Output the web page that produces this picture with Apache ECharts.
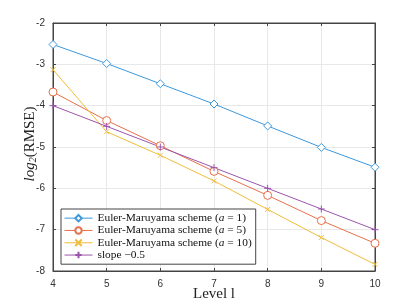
<!DOCTYPE html>
<html><head><meta charset="utf-8">
<script src="https://cdn.jsdelivr.net/npm/echarts@6/dist/echarts.min.js"></script>
<style>html,body{margin:0;padding:0;background:#fff}#c{width:415px;height:306px}</style>
</head><body><div id="c"></div>
<script>
const levels = [4, 5, 6, 7, 8, 9, 10];
const emA1 = [-2.52, -2.98, -3.47, -3.96, -4.49, -5.01, -5.49];
const emA5 = [-3.67, -4.36, -4.97, -5.59, -6.17, -6.78, -7.33];
const emA10 = [-3.13, -4.63, -5.20, -5.82, -6.51, -7.19, -7.84];
const slope = [-4.0, -4.5, -5.0, -5.5, -6.0, -6.5, -7.0];
const seriesNames = ['Euler-Maruyama scheme (a = 1)', 'Euler-Maruyama scheme (a = 5)', 'Euler-Maruyama scheme (a = 10)', 'slope \u22120.5'];

const colors = ['#3d98dc', '#e6704a', '#f0bd3a', '#9a55ab'];
const pairs = a => levels.map((l, i) => [l, a[i]]);
const xPath = 'path://M0,0L10,10M10,0L0,10';
const plusPath = 'path://M5,0L5,10M0,5L10,5';
const serif = '"Liberation Serif","DejaVu Serif",serif';
const sans = '"Liberation Sans",Arial,sans-serif';

function mk(name, data, color, symbol, size) {
  return {
    name, type: 'line', data: pairs(data), symbol, symbolSize: size,
    lineStyle: {color, width: 1},
    itemStyle: {color: symbol.startsWith('path') ? 'none' : '#fff', borderColor: color, borderWidth: 1},
    emphasis: {disabled: true}, animation: false, z: 3
  };
}

const chart = echarts.init(document.getElementById('c'), null, {renderer: 'canvas'});
chart.setOption({
  animation: false,
  grid: {left: 53, right: 40, top: 23, bottom: 35, containLabel: false, outerBoundsMode: 'none', show: true, borderColor: '#444', borderWidth: 1},
  xAxis: [{
    type: 'value', min: 4, max: 10, interval: 1,
    name: 'Level l', nameLocation: 'middle', nameGap: 16, nameMoveOverlap: false,
    nameTextStyle: {fontFamily: serif, fontSize: 15, color: '#222'},
    axisLine: {show: true, lineStyle: {color: '#444'}},
    axisTick: {show: true, inside: true, length: 3, lineStyle: {color: '#444'}},
    axisLabel: {fontFamily: sans, fontSize: 10, color: '#333', margin: 8},
    splitLine: {show: true, lineStyle: {color: '#e8e8e8'}}
  }, {
    type: 'value', min: 4, max: 10, interval: 1, position: 'top',
    axisLine: {show: true, lineStyle: {color: '#444'}},
    axisTick: {show: true, inside: true, length: 3, lineStyle: {color: '#444'}},
    axisLabel: {show: false}, splitLine: {show: false}
  }],
  yAxis: [{
    type: 'value', min: -8, max: -2, interval: 1,
    name: '{i|log}{s|2}{n|(RMSE)}', nameLocation: 'middle', nameGap: 15, nameRotate: 90, nameMoveOverlap: false,
    nameTextStyle: {
      fontFamily: serif, fontSize: 15, color: '#222', padding: [0, 0, 0, 6],
      rich: {
        i: {fontFamily: serif, fontSize: 15, fontStyle: 'italic', color: '#222'},
        s: {fontFamily: serif, fontSize: 10, fontStyle: 'italic', color: '#222', verticalAlign: 'bottom', padding: [6, 0, 0, 0]},
        n: {fontFamily: serif, fontSize: 15, color: '#222'}
      }
    },
    axisLine: {show: true, lineStyle: {color: '#444'}},
    axisTick: {show: true, inside: true, length: 3, lineStyle: {color: '#444'}},
    axisLabel: {fontFamily: sans, fontSize: 10, color: '#333', margin: 8},
    splitLine: {show: true, lineStyle: {color: '#e8e8e8'}}
  }, {
    type: 'value', min: -8, max: -2, interval: 1, position: 'right',
    axisLine: {show: true, lineStyle: {color: '#444'}},
    axisTick: {show: true, inside: true, length: 3, lineStyle: {color: '#444'}},
    axisLabel: {show: false}, splitLine: {show: false}
  }],
  legend: {
    orient: 'vertical', left: 61, top: 209,
    backgroundColor: '#fff', borderColor: '#444', borderWidth: 1,
    padding: [3, 4, 3, 3], itemGap: 0, itemWidth: 28, itemHeight: 8,
    lineStyle: {width: 1},
    data: seriesNames,
    formatter: function (n) {
      const m = n.match(/^(.*)\(a = (\d+)\)$/);
      if (m) return '{t|' + m[1] + '(}{i|a}{t| = ' + m[2] + ')}';
      return '{t|' + n + '}';
    },
    textStyle: {
      fontFamily: serif, fontSize: 11.4, color: '#111', lineHeight: 12.3,
      rich: {
        t: {fontFamily: serif, fontSize: 11.4, color: '#111', lineHeight: 12.3},
        i: {fontFamily: serif, fontSize: 11.4, fontStyle: 'italic', color: '#111', lineHeight: 12.3}
      }
    }
  },
  series: [
    mk(seriesNames[0], emA1, colors[0], 'diamond', 8),
    mk(seriesNames[1], emA5, colors[1], 'circle', 8),
    mk(seriesNames[2], emA10, colors[2], xPath, 5),
    mk(seriesNames[3], slope, colors[3], plusPath, 7)
  ]
});
</script></body></html>
